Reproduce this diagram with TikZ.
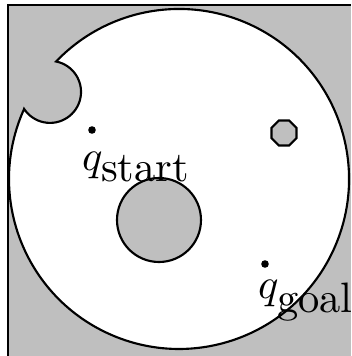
\documentclass[tikz,border=0pt]{standalone}
\begin{document}
\begin{tikzpicture}[x=0.235pt,y=0.235pt,line width=0.5pt]
\tikzset{free/.style={fill=white,draw=black},
  obstacle/.style={fill=black!25,draw=black},
  lbl/.style={inner sep=0pt,anchor=base west}}
\clip (0,0) rectangle (351,356);
% Workspace frame (cut off at right and bottom)
\draw[obstacle,line width=0.7pt] (8,351) rectangle (420,-60);
% Free space: big disc minus a bite at the upper left
\draw[free] (24.1,247.0) arc[start angle=155.7,end angle=496.3,radius=170]
  arc[start angle=78.65,end angle=-146.7,radius=31] -- cycle;
% Obstacles
\draw[obstacle] (159,136) circle[radius=42];
\draw[obstacle] (284,223) +(22.5:13.5) \foreach \a in {67.5,112.5,...,337.5} {-- +(\a:13.5)} -- cycle;
% Start and goal
\coordinate (qstart) at (92,226);
\coordinate (qgoal) at (265,92);
\fill (qstart) circle[radius=3.8];
\fill (qgoal) circle[radius=3.8];
\node[lbl] (lstart) at (81,186) {$q_{\mbox{start}}$};
\node[lbl] (lgoal) at (257,58) {$q_{\mbox{goal}}$};
\end{tikzpicture}
\end{document}
